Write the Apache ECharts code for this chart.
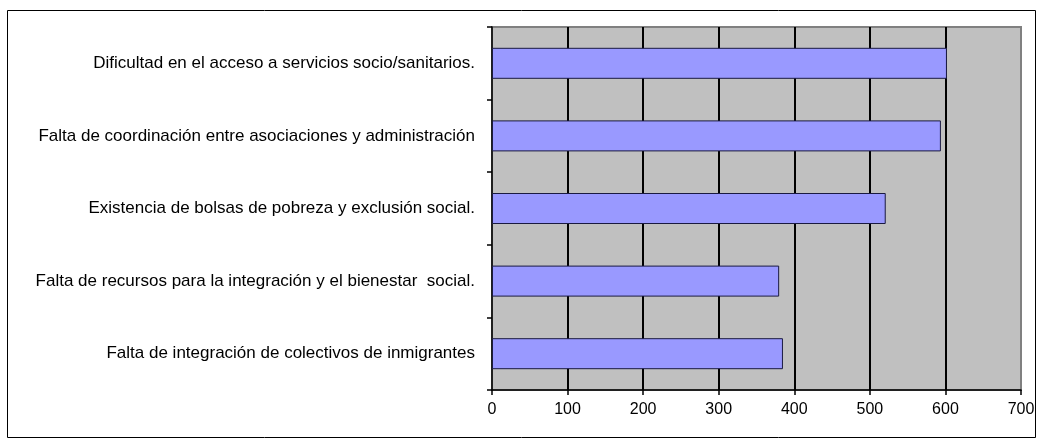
<!DOCTYPE html>
<html><head><meta charset="utf-8">
<script src="https://cdn.jsdelivr.net/npm/echarts@6/dist/echarts.min.js"></script>
<style>html,body{margin:0;padding:0;background:#fff}#c{width:1039px;height:440px}</style>
</head><body><div id="c"></div>
<script>
const categories = [
  "Dificultad en el acceso a servicios socio/sanitarios.",
  "Falta de coordinación entre asociaciones y administración",
  "Existencia de bolsas de pobreza y exclusión social.",
  "Falta de recursos para la integración y el bienestar  social.",
  "Falta de integración de colectivos de inmigrantes"
];
const values = [602, 594, 521, 380, 385];
const xMin = 0, xMax = 700, xStep = 100;

const chart = echarts.init(document.getElementById('c'));
chart.setOption({
  animation: false,
  textStyle: { fontFamily: 'Liberation Sans, Arial, sans-serif' },
  graphic: [{
    type: 'rect', shape: { x: 7.5, y: 10.5, width: 1028, height: 427 },
    style: { fill: 'none', stroke: '#000', lineWidth: 1 }, z: -1
  }],
  grid: {
    left: 492, right: 18, top: 27, bottom: 50,
    show: true, backgroundColor: '#C0C0C0', borderColor: '#808080', borderWidth: 2
  },
  xAxis: {
    type: 'value', min: xMin, max: xMax, interval: xStep,
    axisLine: { show: true, lineStyle: { color: '#000', width: 1.5 } },
    axisTick: { show: true, length: 5, lineStyle: { color: '#000', width: 1.5 } },
    axisLabel: { color: '#000', fontSize: 16, margin: 12 },
    splitLine: { show: true, showMinLine: false, showMaxLine: false, lineStyle: { color: '#000', width: 2 } }
  },
  yAxis: {
    type: 'category', data: categories, inverse: true,
    axisLine: { show: true, lineStyle: { color: '#000', width: 1.5 } },
    axisTick: { show: true, length: 5, lineStyle: { color: '#000', width: 1.5 } },
    axisLabel: { color: '#000', fontSize: 17, margin: 17 }
  },
  series: [{
    type: 'bar', data: values, barWidth: 31,
    itemStyle: { color: '#9999FF', borderColor: '#1a1a40', borderWidth: 1 }
  }]
});
</script></body></html>
